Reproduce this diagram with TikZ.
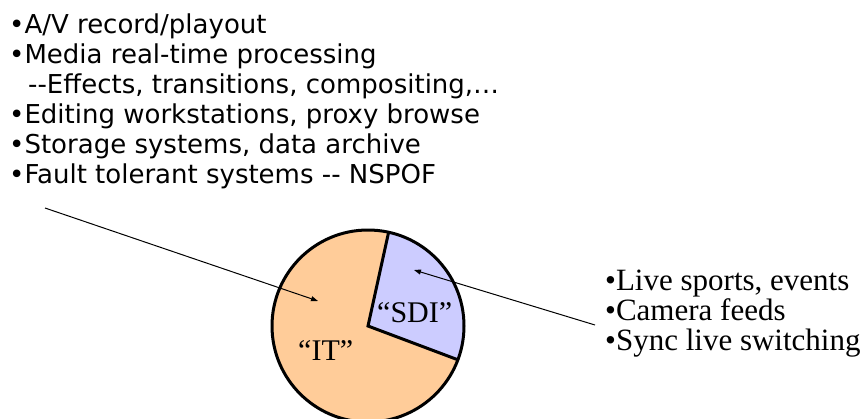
\documentclass[tikz,border=0pt]{standalone}
\usepackage{fontspec}
\setmainfont{Liberation Serif}
\newfontfamily\verd{DejaVu Sans}
\usetikzlibrary{arrows.meta,calc}
\definecolor{itfill}{HTML}{FFCC99}
\definecolor{sdifill}{HTML}{CCCCFF}
\tikzset{
  lefttext/.style={anchor=base west,inner sep=0pt,font=\verd\fontsize{26pt}{30pt}\selectfont},
  righttext/.style={anchor=base west,inner sep=0pt,font=\fontsize{31pt}{31pt}\selectfont},
  slicelabel/.style={anchor=base west,inner sep=0pt,font=\fontsize{30pt}{30pt}\selectfont},
  pointer/.style={line width=1pt,-{Triangle[length=7pt,width=5pt]}},
  wedge/.style={line width=3pt,line join=miter}
}
\begin{document}
\begin{tikzpicture}[x=1pt,y=-1pt]
\useasboundingbox (0,0) rectangle (865,418);
% pie chart (y grows downward, so upward angles are negative)
\coordinate (c) at (368,326);
\def\rad{96}
\fill[itfill] (c) circle[radius=\rad];
\fill[sdifill] (c) -- ++(20.6:\rad) arc[start angle=20.6,end angle=-77.6,radius=\rad] -- cycle;
\draw[wedge] (c) circle[radius=\rad];
\draw[wedge] ($(c)+(-77.6:\rad)$) -- (c) -- ++(20.6:\rad);
% bullets on the left
\node[lefttext] (l1) at (9,33) {•A/V record/playout};
\node[lefttext] (l2) at (9,63) {•Media real-time processing};
\node[lefttext] (l3) at (28,93) {-{}-Effects, transitions, compositing,…};
\node[lefttext] (l4) at (9,123) {•Editing workstations, proxy browse};
\node[lefttext] (l5) at (9,153) {•Storage systems, data archive};
\node[lefttext] (l6) at (9,183) {•Fault tolerant systems -{}- NSPOF};
% bullets on the right
\node[righttext] (r1) at (605,290) {•Live sports, events};
\node[righttext] (r2) at (605,320) {•Camera feeds};
\node[righttext] (r3) at (605,350) {•Sync live switching};
% slice labels
\node[slicelabel] (sdi) at (377,322) {“SDI”};
\node[slicelabel] (it) at (298,360) {“IT”};
% pointers into the slices
\coordinate (lstart) at (45,208);
\coordinate (ltip) at (318,301);
\coordinate (rstart) at (595,325);
\coordinate (rtip) at (414,270);
\draw[pointer] (lstart) -- (ltip);
\draw[pointer] (rstart) -- (rtip);
\end{tikzpicture}
\end{document}
